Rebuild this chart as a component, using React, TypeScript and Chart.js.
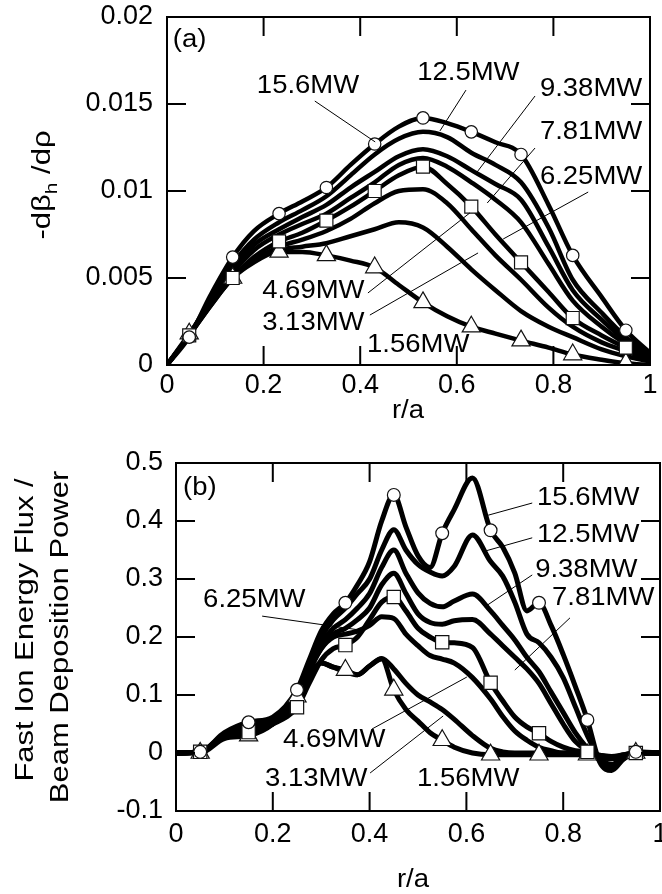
import React, { useEffect, useRef } from 'react';
import { Chart, registerables } from 'chart.js';

Chart.register(...registerables);

const FONT = '"Liberation Sans", Arial, Helvetica, sans-serif';

// ---------- Panel (a): -dβh/dρ vs r/a ----------
const rA = [0, 0.046, 0.09, 0.136, 0.18, 0.232, 0.28, 0.33, 0.38, 0.43, 0.48, 0.53, 0.58, 0.63, 0.68, 0.733, 0.79, 0.84, 0.9, 0.95, 1];
const a15_6 = [0, 0.0016, 0.0040, 0.0062, 0.0077, 0.0087, 0.0094, 0.0102, 0.0115, 0.0127, 0.0137, 0.0142, 0.0139, 0.0134, 0.0128, 0.0121, 0.0092, 0.0063, 0.0039, 0.0020, 0.0007];
const a12_5 = [0, 0.0017, 0.0038, 0.0058, 0.0072, 0.0082, 0.0089, 0.0097, 0.0109, 0.0121, 0.0130, 0.0134, 0.0131, 0.0122, 0.0115, 0.0105, 0.0079, 0.0049, 0.0030, 0.0016, 0.0006];
const a9_38 = [0, 0.0017, 0.0037, 0.0055, 0.0069, 0.0078, 0.0085, 0.0092, 0.0102, 0.0111, 0.0120, 0.0124, 0.0120, 0.0112, 0.0104, 0.0095, 0.0068, 0.0043, 0.0026, 0.0014, 0.0005];
const a7_81 = [0, 0.0017, 0.0036, 0.0053, 0.0066, 0.0075, 0.0081, 0.0087, 0.0096, 0.0105, 0.0115, 0.0119, 0.0114, 0.0105, 0.0095, 0.0082, 0.0058, 0.0037, 0.0022, 0.0012, 0.0004];
const a6_25 = [0, 0.0017, 0.0035, 0.0050, 0.0062, 0.0071, 0.0076, 0.0083, 0.0091, 0.0100, 0.0109, 0.0114, 0.0104, 0.0091, 0.0075, 0.0059, 0.0042, 0.0027, 0.0017, 0.0010, 0.0004];
const a4_69 = [0, 0.0017, 0.0034, 0.0050, 0.0060, 0.0068, 0.0072, 0.0077, 0.0084, 0.0093, 0.0100, 0.0101, 0.0093, 0.0078, 0.0063, 0.0049, 0.0033, 0.0022, 0.0013, 0.0008, 0.0003];
const a3_13 = [0, 0.0017, 0.0034, 0.0050, 0.0059, 0.0066, 0.0068, 0.0070, 0.0074, 0.0078, 0.0082, 0.0079, 0.0068, 0.0055, 0.0043, 0.0031, 0.0022, 0.0016, 0.0009, 0.0005, 0.0002];
const a1_56 = [0, 0.0018, 0.0035, 0.0050, 0.0060, 0.0065, 0.0065, 0.0063, 0.0060, 0.0056, 0.0046, 0.0036, 0.0028, 0.0022, 0.0018, 0.0014, 0.0010, 0.0006, 0.0003, 0.0001, 0];
const markerIdxA = [1, 3, 5, 7, 9, 11, 13, 15, 17, 19];

// ---------- Panel (b): fast ion energy flux / beam deposition power ----------
const rB = [0, 0.05, 0.1, 0.15, 0.2, 0.25, 0.275, 0.3, 0.325, 0.35, 0.375, 0.4, 0.425, 0.45, 0.475, 0.5, 0.525, 0.55, 0.575, 0.6125, 0.65, 0.675, 0.7, 0.725, 0.75, 0.775, 0.8, 0.825, 0.85, 0.875, 0.9, 0.925, 0.95, 1];
const b15_6 = [0, 0.002, 0.035, 0.053, 0.062, 0.109, 0.16, 0.21, 0.24, 0.259, 0.29, 0.33, 0.40, 0.445, 0.39, 0.34, 0.32, 0.379, 0.42, 0.474, 0.384, 0.355, 0.31, 0.245, 0.259, 0.22, 0.17, 0.115, 0.057, -0.015, -0.03, -0.01, 0.002, 0];
const b12_5 = [0, 0.002, 0.033, 0.05, 0.058, 0.104, 0.155, 0.20, 0.23, 0.25, 0.275, 0.30, 0.35, 0.385, 0.35, 0.325, 0.312, 0.305, 0.322, 0.376, 0.33, 0.305, 0.26, 0.205, 0.19, 0.165, 0.13, 0.08, 0.03, -0.01, -0.025, -0.01, 0, 0];
const b9_38 = [0, 0.002, 0.03, 0.047, 0.055, 0.10, 0.15, 0.19, 0.215, 0.23, 0.25, 0.275, 0.32, 0.35, 0.31, 0.276, 0.258, 0.252, 0.262, 0.274, 0.245, 0.22, 0.195, 0.165, 0.14, 0.105, 0.07, 0.035, 0.008, -0.012, -0.022, -0.008, 0, 0];
const b7_81 = [0, 0.002, 0.03, 0.045, 0.055, 0.098, 0.145, 0.18, 0.205, 0.215, 0.23, 0.25, 0.29, 0.31, 0.275, 0.24, 0.225, 0.222, 0.228, 0.23, 0.205, 0.185, 0.165, 0.145, 0.12, 0.085, 0.05, 0.02, 0.004, -0.01, -0.02, -0.006, 0, 0];
const b6_25 = [0, 0.002, 0.028, 0.036, 0.05, 0.079, 0.12, 0.16, 0.18, 0.186, 0.20, 0.23, 0.26, 0.269, 0.245, 0.215, 0.20, 0.191, 0.19, 0.182, 0.121, 0.09, 0.062, 0.045, 0.034, 0.02, 0.01, 0.004, 0.002, -0.005, -0.01, -0.005, 0, 0];
const b4_69 = [0, 0.002, 0.028, 0.04, 0.052, 0.095, 0.14, 0.18, 0.20, 0.205, 0.21, 0.22, 0.235, 0.232, 0.205, 0.185, 0.168, 0.162, 0.155, 0.13, 0.093, 0.063, 0.038, 0.022, 0.01, 0.004, 0, 0, 0, -0.005, -0.01, -0.004, 0, 0];
const b3_13 = [0, 0.002, 0.027, 0.035, 0.05, 0.092, 0.13, 0.155, 0.148, 0.14, 0.135, 0.15, 0.163, 0.145, 0.12, 0.10, 0.088, 0.075, 0.058, 0.03, 0.008, 0.002, 0, 0, 0, 0, 0, 0, 0, -0.004, -0.008, -0.003, 0, 0];
const b1_56 = [0, 0, 0.025, 0.03, 0.05, 0.097, 0.13, 0.155, 0.148, 0.143, 0.135, 0.15, 0.162, 0.109, 0.075, 0.055, 0.035, 0.022, 0.01, 0, -0.003, -0.003, -0.003, -0.003, -0.003, -0.003, -0.003, -0.003, -0.003, -0.004, -0.006, -0.003, 0, 0];
const markerIdxB = [1, 3, 5, 9, 13, 17, 20, 24, 28, 32];

// ---------- tick labels / names ----------
const xTickLabels = ['0', '0.2', '0.4', '0.6', '0.8', '1'];
const yTickLabelsA = ['0', '0.005', '0.01', '0.015', '0.02'];
const yTickLabelsB = ['-0.1', '0', '0.1', '0.2', '0.3', '0.4', '0.5'];
const powerNames = ['15.6MW', '12.5MW', '9.38MW', '7.81MW', '6.25MW', '4.69MW', '3.13MW', '1.56MW'];

// ---------- annotation placement (data coords) ----------
const annotA = [
  { t: powerNames[0], x: 0.186, y: 0.01603, l: [0.306, 0.01517, 0.431, 0.01282] },
  { t: powerNames[1], x: 0.518, y: 0.01678, l: [0.619, 0.0158, 0.565, 0.01345] },
  { t: powerNames[2], x: 0.772, y: 0.01586, l: [0.762, 0.01546, 0.642, 0.01109] },
  { t: powerNames[3], x: 0.772, y: 0.01339, l: [0.762, 0.01247, 0.663, 0.00931] },
  { t: powerNames[4], x: 0.772, y: 0.0108, l: [0.872, 0.00994, 0.696, 0.00724] },
  { t: powerNames[5], x: 0.197, y: 0.00425, l: [0.416, 0.00414, 0.627, 0.00874] },
  { t: powerNames[6], x: 0.197, y: 0.00241, l: [0.42, 0.00287, 0.644, 0.00644] },
  { t: powerNames[7], x: 0.414, y: 0.00115, l: null },
];
const annotB = [
  { t: powerNames[0], x: 0.746, y: 0.4397, l: [0.736, 0.431, 0.645, 0.41] },
  { t: powerNames[1], x: 0.746, y: 0.376, l: [0.736, 0.371, 0.638, 0.348] },
  { t: powerNames[2], x: 0.742, y: 0.3155, l: [0.736, 0.307, 0.638, 0.252] },
  { t: powerNames[3], x: 0.777, y: 0.267, l: [0.814, 0.233, 0.7, 0.143] },
  { t: powerNames[4], x: 0.056, y: 0.264, l: [0.178, 0.236, 0.38, 0.212] },
  { t: powerNames[5], x: 0.221, y: 0.0224, l: [0.405, 0.0414, 0.601, 0.131] },
  { t: powerNames[6], x: 0.184, y: -0.0448, l: [0.401, -0.0345, 0.552, 0.0638] },
  { t: powerNames[7], x: 0.498, y: -0.0448, l: null },
];

const TICK_LEN = 19;
const LABEL_SX = 1.1;
const TITLE_SX = 1.24;

function drawStretched(ctx: CanvasRenderingContext2D, text: string, x: number, y: number, size: number, sx: number, align: CanvasTextAlign = 'left', baseline: CanvasTextBaseline = 'middle') {
  ctx.save();
  ctx.font = `${size}px ${FONT}`;
  ctx.textAlign = align;
  ctx.textBaseline = baseline;
  ctx.fillStyle = '#000';
  ctx.translate(x, y);
  ctx.scale(sx, 1);
  ctx.fillText(text, 0, 0);
  ctx.restore();
}

function makeDeco(opts: any) {
  return {
    id: 'deco_' + opts.id,
    afterDraw(chart: any) {
      const ctx: CanvasRenderingContext2D = chart.ctx;
      const { left, right, top, bottom } = chart.chartArea;
      const xs = chart.scales.x;
      const ys = chart.scales.y;
      ctx.save();
      ctx.strokeStyle = '#000';
      ctx.lineWidth = 2;
      ctx.strokeRect(left, top, right - left, bottom - top);
      ctx.beginPath();
      xs.ticks.forEach((t: any) => {
        if (t.value <= xs.min + 1e-9 || t.value >= xs.max - 1e-9) return;
        const px = xs.getPixelForValue(t.value);
        ctx.moveTo(px, bottom); ctx.lineTo(px, bottom - TICK_LEN);
        ctx.moveTo(px, top); ctx.lineTo(px, top + TICK_LEN);
      });
      ys.ticks.forEach((t: any) => {
        if (t.value <= ys.min + 1e-9 || t.value >= ys.max - 1e-9) return;
        const py = ys.getPixelForValue(t.value);
        ctx.moveTo(left, py); ctx.lineTo(left + TICK_LEN, py);
        ctx.moveTo(right, py); ctx.lineTo(right - TICK_LEN, py);
      });
      ctx.stroke();

      // leader lines
      ctx.lineWidth = 1;
      ctx.beginPath();
      opts.annot.forEach((a: any) => {
        if (!a.l) return;
        ctx.moveTo(xs.getPixelForValue(a.l[0]), ys.getPixelForValue(a.l[1]));
        ctx.lineTo(xs.getPixelForValue(a.l[2]), ys.getPixelForValue(a.l[3]));
      });
      ctx.stroke();
      ctx.restore();

      // series labels
      opts.annot.forEach((a: any) => {
        drawStretched(ctx, a.t, xs.getPixelForValue(a.x), ys.getPixelForValue(a.y), 25, LABEL_SX);
      });
      // panel tag
      drawStretched(ctx, opts.tag.t, xs.getPixelForValue(opts.tag.x), ys.getPixelForValue(opts.tag.y), 25, LABEL_SX);
      // x title
      drawStretched(ctx, 'r/a', opts.xTitle.x, opts.xTitle.y, 25, LABEL_SX, 'center');
      // y title
      opts.drawYTitle(ctx);
    },
  };
}

function lineSet(r: number[], v: number[], width: number) {
  return {
    data: r.map((x, i) => ({ x, y: v[i] })),
    borderColor: '#000',
    borderWidth: width,
    pointRadius: 0,
    fill: false,
    cubicInterpolationMode: 'monotone',
    borderJoinStyle: 'round',
    borderCapStyle: 'round',
    order: 10,
  };
}

function markerSet(r: number[], v: number[], idx: number[], style: string, radius: number, order: number) {
  return {
    data: idx.map((i) => ({ x: r[i], y: v[i] })),
    showLine: false,
    pointStyle: style,
    pointRadius: radius,
    pointBackgroundColor: '#fff',
    pointBorderColor: '#111',
    pointBorderWidth: 1.2,
    order,
  };
}

function buildConfig(p: any) {
  return {
    type: 'line',
    data: { datasets: p.datasets },
    plugins: [p.deco],
    options: {
      responsive: false,
      animation: false,
      devicePixelRatio: 1,
      events: [],
      layout: { padding: p.padding, autoPadding: false },
      plugins: { legend: { display: false }, tooltip: { enabled: false } },
      scales: {
        x: {
          type: 'linear',
          min: 0,
          max: 1,
          grid: { display: false, drawTicks: false },
          border: { display: false },
          ticks: {
            stepSize: 0.2,
            autoSkip: false,
            maxRotation: 0,
            padding: p.xPad,
            color: '#000',
            font: { family: FONT, size: 27 },
            callback: (_v: any, i: number) => xTickLabels[i],
          },
          afterFit: (s: any) => { s.height = p.xHeight; s.paddingLeft = 0; s.paddingRight = 0; },
        },
        y: {
          type: 'linear',
          min: p.yMin,
          max: p.yMax,
          grid: { display: false, drawTicks: false },
          border: { display: false },
          ticks: {
            stepSize: p.yStep,
            autoSkip: false,
            padding: p.yPad,
            color: '#000',
            font: { family: FONT, size: 27 },
            callback: (_v: any, i: number) => p.yLabels[i],
          },
          afterFit: (s: any) => { s.width = p.yWidth; s.paddingTop = 0; s.paddingBottom = 0; },
        },
      },
    },
  };
}

function configA() {
  const datasets: any[] = [
    a15_6, a12_5, a9_38, a7_81, a6_25, a4_69, a3_13, a1_56,
  ].map((v) => lineSet(rA, v, 4.5));
  datasets.push(markerSet(rA, a1_56, markerIdxA, 'triangle', 10.5, 3));
  datasets.push(markerSet(rA, a6_25, markerIdxA, 'rect', 9.2, 2));
  datasets.push(markerSet(rA, a15_6, markerIdxA, 'circle', 6.2, 1));
  const deco = makeDeco({
    id: 'a',
    annot: annotA,
    tag: { t: '(a)', x: 0.012, y: 0.01868 },
    xTitle: { x: 408, y: 411 },
    drawYTitle: (ctx: CanvasRenderingContext2D) => {
      ctx.save();
      ctx.fillStyle = '#000';
      ctx.textBaseline = 'alphabetic';
      ctx.textAlign = 'left';
      const main = `25px ${FONT}`;
      const sub = `17px ${FONT}`;
      ctx.font = main;
      const w1 = ctx.measureText('-dβ').width;
      ctx.font = sub;
      const w2 = ctx.measureText('h').width;
      ctx.font = main;
      const w3 = ctx.measureText(' /dρ').width;
      const total = w1 + w2 + w3;
      ctx.translate(50, 185);
      ctx.rotate(-Math.PI / 2);
      ctx.scale(TITLE_SX, 1);
      let x = -total / 2;
      ctx.font = main;
      ctx.fillText('-dβ', x, 0);
      x += w1;
      ctx.font = sub;
      ctx.fillText('h', x, 7);
      x += w2;
      ctx.font = main;
      ctx.fillText(' /dρ', x, 0);
      ctx.restore();
    },
  });
  return buildConfig({
    datasets, deco,
    padding: { left: 0, top: 17, right: 12, bottom: 0 },
    xHeight: 75, yWidth: 167, xPad: 4, yPad: 14,
    yMin: 0, yMax: 0.02, yStep: 0.005, yLabels: yTickLabelsA,
  });
}

function configB() {
  const datasets: any[] = [
    b15_6, b12_5, b9_38, b7_81, b6_25, b4_69, b3_13, b1_56,
  ].map((v) => lineSet(rB, v, 5));
  datasets.push(markerSet(rB, b1_56, markerIdxB, 'triangle', 10.5, 3));
  datasets.push(markerSet(rB, b6_25, markerIdxB, 'rect', 9.4, 2));
  datasets.push(markerSet(rB, b15_6, markerIdxB, 'circle', 6.4, 1));
  const deco = makeDeco({
    id: 'b',
    annot: annotB,
    tag: { t: '(b)', x: 0.0145, y: 0.457 },
    xTitle: { x: 413, y: 440 },
    drawYTitle: (ctx: CanvasRenderingContext2D) => {
      ctx.save();
      ctx.fillStyle = '#000';
      ctx.textBaseline = 'alphabetic';
      ctx.textAlign = 'center';
      ctx.font = `25px ${FONT}`;
      ctx.save();
      ctx.translate(33, 190);
      ctx.rotate(-Math.PI / 2);
      ctx.scale(TITLE_SX, 1);
      ctx.fillText('Fast Ion Energy Flux /', 0, 0);
      ctx.restore();
      ctx.save();
      ctx.translate(68, 197);
      ctx.rotate(-Math.PI / 2);
      ctx.scale(TITLE_SX, 1);
      ctx.fillText('Beam Deposition Power', 0, 0);
      ctx.restore();
      ctx.restore();
    },
  });
  return buildConfig({
    datasets, deco,
    padding: { left: 0, top: 23, right: 2, bottom: 0 },
    xHeight: 83, yWidth: 176, xPad: 7, yPad: 13,
    yMin: -0.1, yMax: 0.5, yStep: 0.1, yLabels: yTickLabelsB,
  });
}

function Panel({ make, top, height }: { make: () => any; top: number; height: number }) {
  const ref = useRef<HTMLCanvasElement>(null);
  useEffect(() => {
    const chart = new Chart(ref.current as HTMLCanvasElement, make());
    return () => chart.destroy();
  }, []);
  return (
    <canvas
      ref={ref}
      width={662}
      height={height}
      style={{ position: 'absolute', left: 0, top, width: 662, height, display: 'block' }}
    />
  );
}

export default function App() {
  return (
    <div style={{ position: 'absolute', left: 0, top: 0, width: 662, height: 894, background: '#fff', overflow: 'hidden' }}>
      <Panel make={configA} top={0} height={440} />
      <Panel make={configB} top={440} height={454} />
    </div>
  );
}
